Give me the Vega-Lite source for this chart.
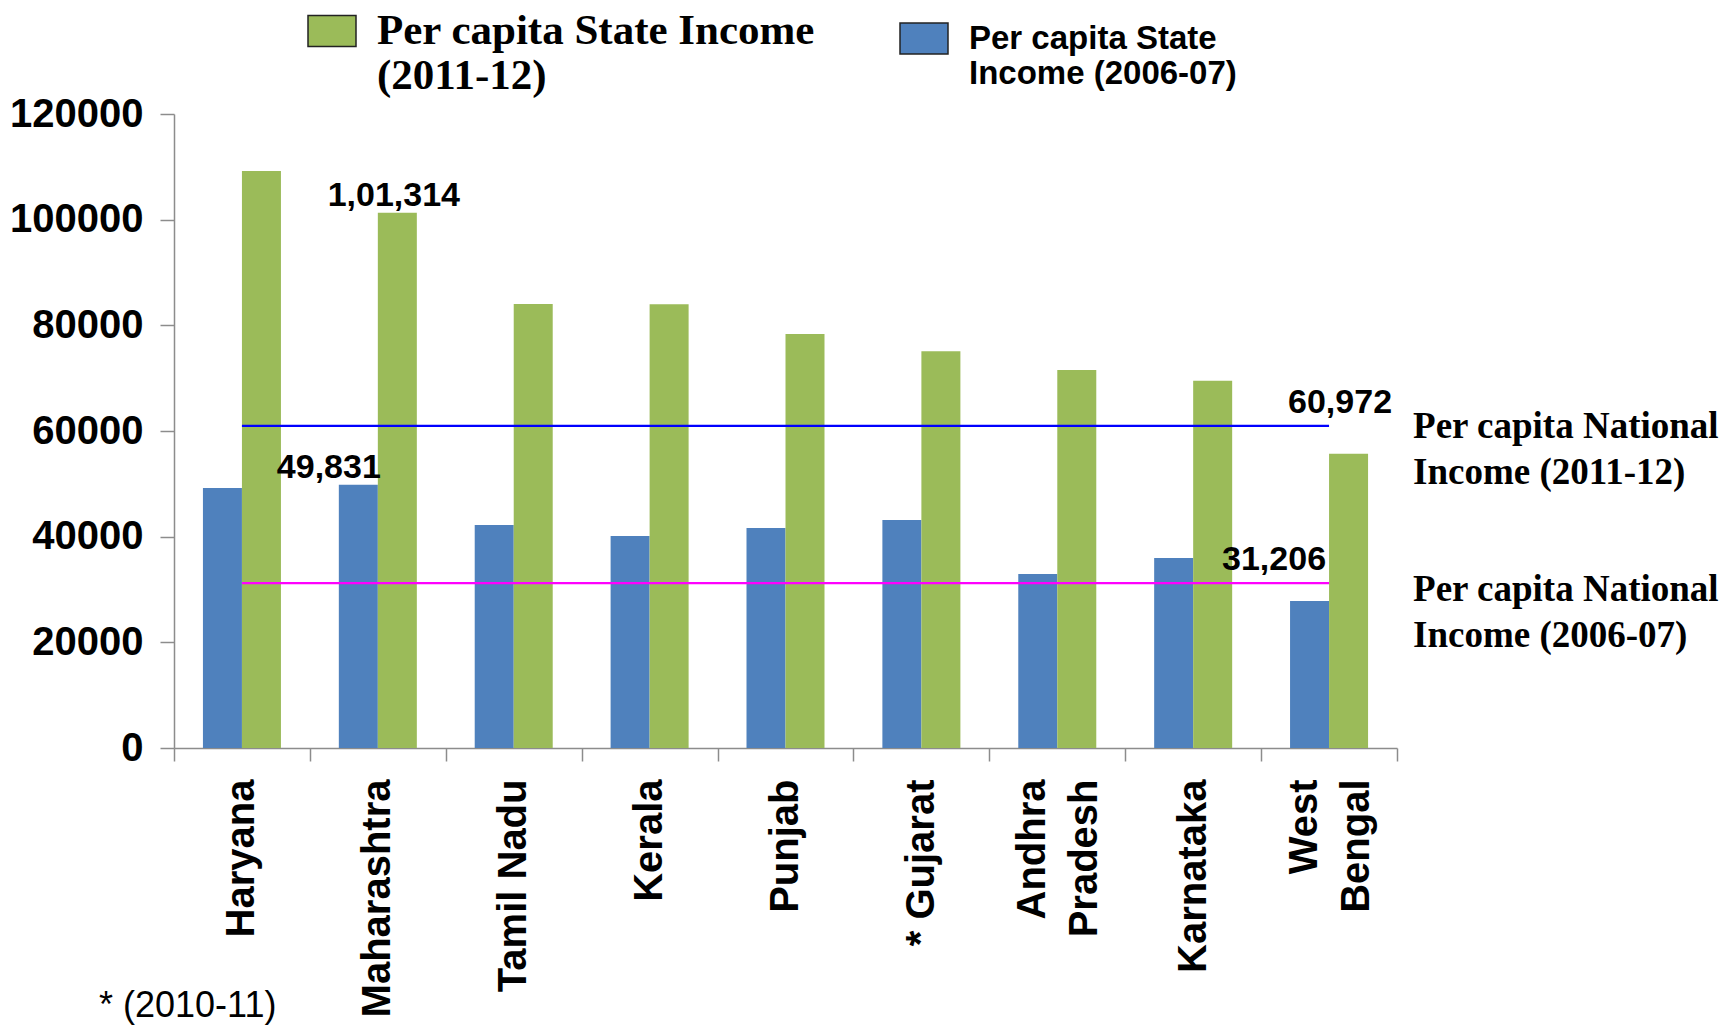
{
  "$schema": "https://vega.github.io/schema/vega-lite/v6.json",
  "width": 1223,
  "height": 634,
  "autosize": {"type": "none"},
  "padding": {"left": 174, "top": 114, "right": 333, "bottom": 277},
  "background": "white",
  "config": {"view": {"stroke": null}, "axis": {"grid": false}, "font": "Liberation Sans"},
  "title": {
    "text": "* (2010-11)",
    "orient": "bottom",
    "anchor": "start",
    "frame": "group",
    "font": "Liberation Sans",
    "fontSize": 36,
    "fontWeight": "normal",
    "color": "black",
    "baseline": "top",
    "offset": -28,
    "dx": -75
  },
  "datasets": {
    "bars": [
      {"state": "Haryana", "period": "2006-07", "value": 49230},
      {"state": "Haryana", "period": "2011-12", "value": 109227},
      {"state": "Maharashtra", "period": "2006-07", "value": 49831, "label": "49,831"},
      {"state": "Maharashtra", "period": "2011-12", "value": 101314, "label": "1,01,314"},
      {"state": "Tamil Nadu", "period": "2006-07", "value": 42200},
      {"state": "Tamil Nadu", "period": "2011-12", "value": 84058},
      {"state": "Kerala", "period": "2006-07", "value": 40125},
      {"state": "Kerala", "period": "2011-12", "value": 84000},
      {"state": "Punjab", "period": "2006-07", "value": 41640},
      {"state": "Punjab", "period": "2011-12", "value": 78350},
      {"state": "* Gujarat", "period": "2006-07", "value": 43150},
      {"state": "* Gujarat", "period": "2011-12", "value": 75115},
      {"state": "Andhra Pradesh", "period": "2006-07", "value": 32930},
      {"state": "Andhra Pradesh", "period": "2011-12", "value": 71540},
      {"state": "Karnataka", "period": "2006-07", "value": 35960},
      {"state": "Karnataka", "period": "2011-12", "value": 69493},
      {"state": "West Bengal", "period": "2006-07", "value": 27820},
      {"state": "West Bengal", "period": "2011-12", "value": 55700}
    ],
    "national": [
      {"period": "2011-12", "value": 60972, "label": "60,972", "note": "Per capita National\nIncome (2011-12)"},
      {"period": "2006-07", "value": 31206, "label": "31,206", "note": "Per capita National\nIncome (2006-07)"}
    ]
  },
  "encoding": {
    "x": {
      "field": "state",
      "type": "nominal",
      "scale": {
        "domain": ["Haryana", "Maharashtra", "Tamil Nadu", "Kerala", "Punjab", "* Gujarat", "Andhra Pradesh", "Karnataka", "West Bengal"],
        "paddingInner": 0,
        "paddingOuter": 0
      },
      "axis": {
        "title": null,
        "labelAngle": -90,
        "labelFont": "Liberation Sans",
        "labelFontSize": 40,
        "labelFontWeight": "bold",
        "labelColor": "black",
        "labelLineHeight": 52,
        "labelPadding": 18,
        "labelLimit": 400,
        "labelOffset": {"condition": {"test": "datum.value == 'Andhra Pradesh' || datum.value == 'West Bengal'", "value": -25}, "value": 0},
        "labelExpr": "datum.label == 'Andhra Pradesh' ? ['Andhra', 'Pradesh'] : datum.label == 'West Bengal' ? ['West', 'Bengal'] : datum.label",
        "tickBand": "extent",
        "tickSize": 13,
        "tickColor": "#8c8c8c",
        "domainColor": "#8c8c8c",
        "domainWidth": 1.5,
        "tickWidth": 1.5
      }
    }
  },
  "layer": [
    {
      "data": {"name": "bars"},
      "mark": {"type": "bar"},
      "encoding": {
        "xOffset": {"field": "period", "type": "nominal", "sort": ["2006-07", "2011-12"], "scale": {"paddingInner": 0, "paddingOuter": 0.742}},
        "y": {
          "field": "value",
          "type": "quantitative",
          "scale": {"domain": [0, 120000], "nice": false},
          "axis": {
            "title": null,
            "values": [0, 20000, 40000, 60000, 80000, 100000, 120000],
            "format": "d",
            "labelFont": "Liberation Sans",
            "labelFontSize": 40,
            "labelFontWeight": "bold",
            "labelColor": "black",
            "labelPadding": 17,
            "tickSize": 14,
            "tickColor": "#8c8c8c",
            "domainColor": "#8c8c8c",
            "domainWidth": 1.5,
            "tickWidth": 1.5
          }
        },
        "color": {
          "field": "period",
          "type": "nominal",
          "scale": {"domain": ["2011-12", "2006-07"], "range": ["#9BBB59", "#4F81BD"]},
          "legend": {
            "title": null,
            "orient": "none",
            "legendX": 133,
            "legendY": -108,
            "direction": "horizontal",
            "columns": 2,
            "columnPadding": 81,
            "padding": 0,
            "symbolType": "M-1,-0.65H1V0.65H-1Z",
            "symbolSize": 2304,
            "symbolOpacity": 1,
            "symbolStrokeColor": "#222222",
            "symbolStrokeWidth": 1.5,
            "labelOffset": 20,
            "labelLimit": 900,
            "labelFont": {"expr": "datum.index === 0 ? 'Liberation Serif' : 'Liberation Sans Narrow, Arial Narrow, Liberation Sans'"},
            "labelFontSize": {"expr": "datum.index === 0 ? 43 : 33"},
            "labelFontWeight": "bold",
            "labelColor": "black",
            "labelBaseline": "middle",
            "labelExpr": "datum.label == '2011-12' ? ['Per capita State Income', '(2011-12)'] : ['Per capita State', 'Income (2006-07)']"
          }
        }
      }
    },
    {
      "data": {"name": "national"},
      "transform": [{"filter": "datum.period == '2011-12'"}],
      "mark": {"type": "rule", "color": "#0000FF", "strokeWidth": 2.2},
      "encoding": {
        "x": {"datum": "Haryana", "type": "nominal", "bandPosition": 0.5},
        "x2": {"datum": "West Bengal", "bandPosition": 0.5},
        "y": {"field": "value", "type": "quantitative"}
      }
    },
    {
      "data": {"name": "national"},
      "transform": [{"filter": "datum.period == '2006-07'"}],
      "mark": {"type": "rule", "color": "#FF00FF", "strokeWidth": 2.2},
      "encoding": {
        "x": {"datum": "Haryana", "type": "nominal", "bandPosition": 0.5},
        "x2": {"datum": "West Bengal", "bandPosition": 0.5},
        "y": {"field": "value", "type": "quantitative"}
      }
    },
    {
      "data": {"name": "national"},
      "transform": [{"filter": "datum.period == '2011-12'"}],
      "mark": {"type": "text", "align": "right", "baseline": "alphabetic", "dx": 63, "dy": -13, "font": "Liberation Sans", "fontSize": 34, "fontWeight": "bold", "color": "black"},
      "encoding": {
        "x": {"datum": "West Bengal", "type": "nominal", "bandPosition": 0.5},
        "y": {"field": "value", "type": "quantitative"},
        "text": {"field": "label"}
      }
    },
    {
      "data": {"name": "national"},
      "transform": [{"filter": "datum.period == '2006-07'"}],
      "mark": {"type": "text", "align": "right", "baseline": "alphabetic", "dx": -3, "dy": -13, "font": "Liberation Sans", "fontSize": 34, "fontWeight": "bold", "color": "black"},
      "encoding": {
        "x": {"datum": "West Bengal", "type": "nominal", "bandPosition": 0.5},
        "y": {"field": "value", "type": "quantitative"},
        "text": {"field": "label"}
      }
    },
    {
      "data": {"name": "national"},
      "transform": [{"filter": "datum.period == '2011-12'"}],
      "mark": {"type": "text", "align": "left", "baseline": "top", "dx": 84, "dy": -17, "lineBreak": "\n", "lineHeight": 46, "font": "Liberation Serif", "fontSize": 37, "fontWeight": "bold", "color": "black"},
      "encoding": {
        "x": {"datum": "West Bengal", "type": "nominal", "bandPosition": 0.5},
        "y": {"field": "value", "type": "quantitative"},
        "text": {"field": "note"}
      }
    },
    {
      "data": {"name": "national"},
      "transform": [{"filter": "datum.period == '2006-07'"}],
      "mark": {"type": "text", "align": "left", "baseline": "top", "dx": 84, "dy": -11, "lineBreak": "\n", "lineHeight": 46, "font": "Liberation Serif", "fontSize": 37, "fontWeight": "bold", "color": "black"},
      "encoding": {
        "x": {"datum": "West Bengal", "type": "nominal", "bandPosition": 0.5},
        "y": {"field": "value", "type": "quantitative"},
        "text": {"field": "note"}
      }
    },
    {
      "data": {"name": "bars"},
      "transform": [{"filter": "datum.label == '1,01,314'"}],
      "mark": {"type": "text", "align": "center", "baseline": "alphabetic", "dx": 16, "dy": -7, "font": "Liberation Sans", "fontSize": 34, "fontWeight": "bold", "color": "black"},
      "encoding": {
        "x": {"field": "state", "type": "nominal", "bandPosition": 0.5},
        "y": {"field": "value", "type": "quantitative"},
        "text": {"field": "label"}
      }
    },
    {
      "data": {"name": "bars"},
      "transform": [{"filter": "datum.label == '49,831'"}],
      "mark": {"type": "text", "align": "right", "baseline": "alphabetic", "dx": 3, "dy": -7, "font": "Liberation Sans", "fontSize": 34, "fontWeight": "bold", "color": "black"},
      "encoding": {
        "x": {"field": "state", "type": "nominal", "bandPosition": 0.5},
        "y": {"field": "value", "type": "quantitative"},
        "text": {"field": "label"}
      }
    }
  ]
}
